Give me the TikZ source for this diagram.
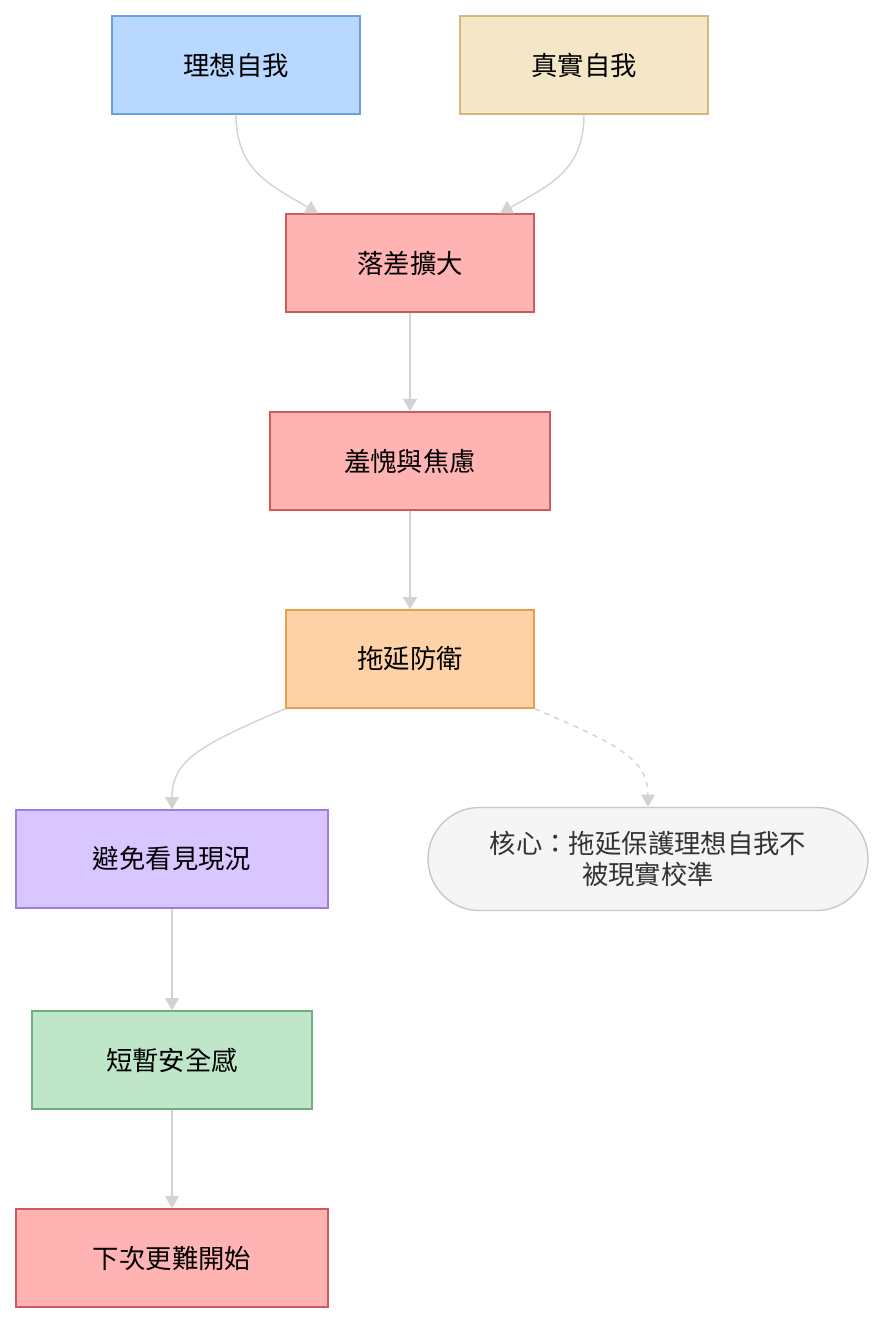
\documentclass[tikz,border=0pt]{standalone}
\usepackage{fontspec}
\setmainfont{Noto Sans CJK TC}
\usetikzlibrary{positioning, arrows.meta}
\definecolor{edgegray}{HTML}{D3D3D3}
\tikzset{
	box/.style={
		draw, line width=0.8pt, align=center, minimum height=19.6mm,
		inner sep=1mm, font={\fontsize{15}{18}\selectfont}
	},
	flow/.style={draw=edgegray, line width=0.8pt, -{Triangle[length=7pt,width=8pt]}},
}
\begin{document}
\begin{tikzpicture}[x=0.2mm, y=-0.2mm]
	\useasboundingbox (0,0) rectangle (884,1324);
	% upper part
	\node[box, minimum width=49.6mm, fill={rgb,255:red,184;green,216;blue,255}, draw={rgb,255:red,106;green,159;blue,224}] (ideal) at (236,65) {理想自我};
	\node[box, minimum width=49.6mm, fill={rgb,255:red,243;green,231;blue,200}, draw={rgb,255:red,212;green,184;blue,122}] (real) at (584,65) {真實自我};
	\node[box, minimum width=49.6mm, fill={rgb,255:red,255;green,179;blue,179}, draw={rgb,255:red,208;green,90;blue,90}] (gap) at (410,263) {落差擴大};
	\node[box, minimum width=56mm, fill={rgb,255:red,255;green,179;blue,179}, draw={rgb,255:red,208;green,90;blue,90}] (shame) at (410,461) {羞愧與焦慮};
	\node[box, minimum width=49.6mm, fill={rgb,255:red,255;green,209;blue,166}, draw={rgb,255:red,232;green,160;blue,80}] (defense) at (410,659) {拖延防衛};
	% lower part
	\node[box, minimum width=62.4mm, fill={rgb,255:red,217;green,197;blue,255}, draw={rgb,255:red,160;green,126;blue,216}] (avoid) at (172,859) {避免看見現況};
	\node[box, minimum width=88mm, minimum height=20.6mm, rounded corners=10.3mm, text=black!80, fill={rgb,255:red,245;green,245;blue,245}, draw={rgb,255:red,200;green,200;blue,200}] (core) at (648,859) {核心：拖延保護理想自我不\\被現實校準};
	\node[box, minimum width=56mm, fill={rgb,255:red,191;green,230;blue,200}, draw={rgb,255:red,107;green,176;blue,125}] (safe) at (172,1060) {短暫安全感};
	\node[box, minimum width=62.4mm, fill={rgb,255:red,255;green,179;blue,179}, draw={rgb,255:red,208;green,90;blue,90}] (harder) at (172,1258) {下次更難開始};
	% connectors
	\draw[flow] (ideal.south) .. controls (236,170) and (270,185) .. (gap.north -| 318,0);
	\draw[flow] (real.south) .. controls (584,170) and (550,185) .. (gap.north -| 500,0);
	\draw[flow] (gap) -- (shame);
	\draw[flow] (shame) -- (defense);
	\draw[flow] (defense.south west) .. controls (200,745) and (172,760) .. (avoid.north);
	\draw[flow, dashed] (defense.south east) .. controls (620,745) and (648,760) .. (core.north);
	\draw[flow] (avoid) -- (safe);
	\draw[flow] (safe) -- (harder);
\end{tikzpicture}
\end{document}
